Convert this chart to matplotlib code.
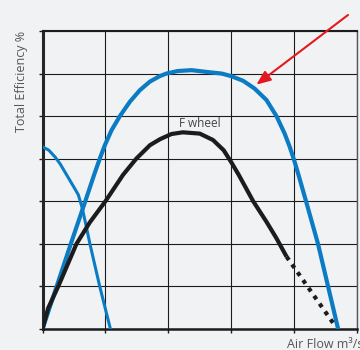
import matplotlib.pyplot as plt

# main fan curve (blue) in grid units
blue_x = [0, 0.225, 0.45, 0.68, 0.82, 0.91, 0.992, 1.098, 1.23, 1.39, 1.548, 1.706, 1.865,
          1.97, 2.15, 2.37, 2.6, 2.85, 3.0, 3.19, 3.37, 3.56, 3.72, 3.85, 3.93, 4.0,
          4.07, 4.19, 4.38, 4.54, 4.70]
blue_y = [0, 1.0, 2.0, 3.0, 3.62, 4.0, 4.32, 4.67, 5.0, 5.34, 5.61, 5.81, 5.94,
          6.0, 6.06, 6.08, 6.04, 6.0, 5.94, 5.83, 5.65, 5.38, 5.0, 4.59, 4.28, 3.97,
          3.62, 3.0, 2.0, 1.0, 0]

# small blue curve on the left
small_x = [0, 0.1, 0.2, 0.28, 0.38, 0.52, 0.57, 0.63, 0.69, 0.754, 0.91, 1.08]
small_y = [4.28, 4.2, 4.04, 3.88, 3.63, 3.28, 3.15, 2.85, 2.45, 2.0, 1.0, 0]

# F wheel (black), solid part then dotted tail
black_x = [0, 0.09, 0.25, 0.54, 0.75, 1.0, 1.28, 1.49, 1.71, 1.87, 2.05, 2.23, 2.5,
           2.71, 2.88, 3.0, 3.12, 3.35, 3.56, 3.72, 3.88]
black_y = [0, 0.49, 1.0, 2.0, 2.5, 3.0, 3.62, 4.0, 4.32, 4.46, 4.58, 4.62, 4.59,
           4.44, 4.2, 3.92, 3.62, 3.0, 2.52, 2.13, 1.7]
dot_x = [3.88, 4.26, 4.64]
dot_y = [1.7, 0.9, 0.1]

bg = '#f1f2f4'
blue = '#0b7cc4'
dark = '#1c1c1c'
fonts = ['Open Sans', 'DejaVu Sans']

fig = plt.figure(figsize=(3.6, 3.5), dpi=100, facecolor=bg)
ax = fig.add_axes([42.5 / 360, 21 / 350, 314.5 / 360, 298 / 350], facecolor=bg)

ax.set_xlim(0, 5)
ax.set_ylim(0, 7)
ax.set_xticks(range(6))
ax.set_yticks(range(8))
ax.set_xticklabels([])
ax.set_yticklabels([])
ax.tick_params(length=3, width=1, color=dark)
ax.grid(True, color=dark, lw=0.8)

for side, w, c in [('left', 2.2, '#262626'), ('bottom', 1.8, dark),
                   ('top', 1.5, dark), ('right', 1.0, '#555555')]:
    ax.spines[side].set_linewidth(w)
    ax.spines[side].set_color(c)

ax.plot(small_x, small_y, color=blue, lw=2.2, zorder=3, solid_joinstyle='round')
ax.plot(blue_x, blue_y, color=blue, lw=3.0, zorder=4, solid_joinstyle='round')
ax.plot(black_x, black_y, color=dark, lw=3.0, zorder=4, solid_capstyle='butt',
        solid_joinstyle='round')
ax.plot(dot_x, dot_y, color=dark, lw=3.0, zorder=4, linestyle=(0, (1, 1.3)))

ax.text(2.5, 4.83, 'F wheel', fontsize=8.5, color='#444444', ha='center', va='center',
        family=fonts)

ax.annotate('', xy=(3.4, 5.74), xycoords='data',
            xytext=(348, 335), textcoords='figure pixels',
            arrowprops=dict(arrowstyle='-|>,head_length=0.85,head_width=0.35',
                            color='#e3191f', lw=1.5, mutation_scale=10,
                            shrinkA=0, shrinkB=0),
            annotation_clip=False)

fig.text(22 / 360, 268.5 / 350, 'Total Efficiency %', rotation=90, fontsize=9,
         color='#555555', ha='center', va='center', family=fonts)
fig.text(287 / 360, 2 / 350, 'Air Flow m³/s', fontsize=9, color='#555555',
         ha='left', va='baseline', family=fonts)

fig.savefig('out.png', dpi=100, facecolor=bg)
